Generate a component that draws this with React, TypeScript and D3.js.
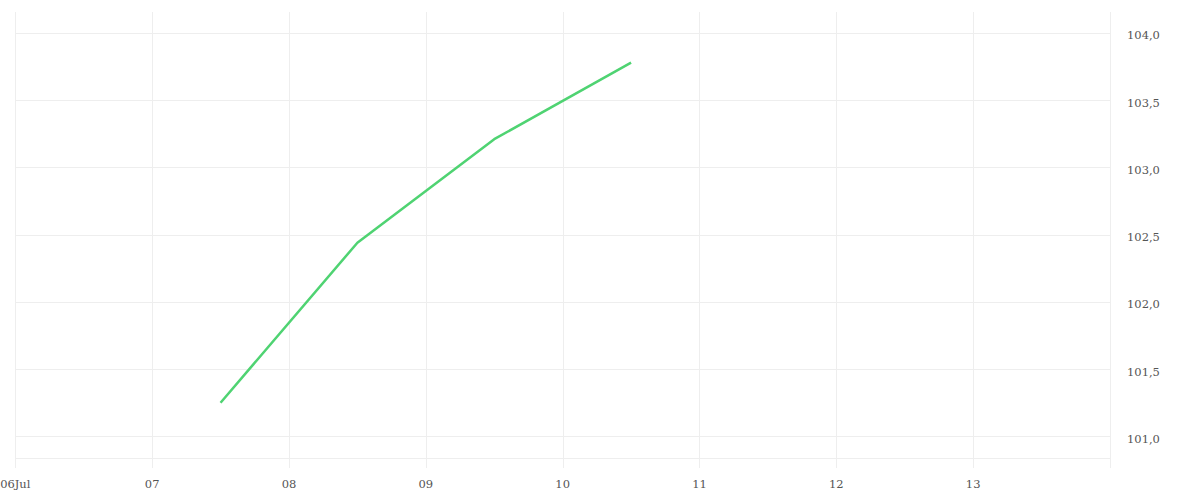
import React from "react";
import * as d3 from "d3";

const dates: string[] = ["2024-07-07T12:00", "2024-07-08T12:00", "2024-07-09T12:00", "2024-07-10T12:00"];
const values: number[] = [101.25, 102.44, 103.21, 103.78];
const yTicks: number[] = [101, 101.5, 102, 102.5, 103, 103.5, 104];
const xTickDates: string[] = ["2024-07-06", "2024-07-07", "2024-07-08", "2024-07-09", "2024-07-10", "2024-07-11", "2024-07-12", "2024-07-13"];
const xTickLabels: string[] = ["06Jul", "07", "08", "09", "10", "11", "12", "13"];

const W = 1200;
const H = 500;
const left = 15.3;
const right = 1110;
const top = 12;
const bottom = 458;

export default function App() {
  const parse = (s: string) => new Date(s);
  const x = d3.scaleTime().domain([parse("2024-07-06T00:00"), parse("2024-07-14T00:00")]).range([left, right]);
  const y = d3.scaleLinear().domain([100.839, 104.156]).range([bottom, top]);
  const data = dates.map((d, i) => ({ d: parse(d), v: values[i] }));
  const line = d3.line<{ d: Date; v: number }>().x((p) => x(p.d)).y((p) => y(p.v));
  const fmt = (v: number) => v.toFixed(1).replace(".", ",");

  return (
    <svg width={W} height={H} style={{ position: "absolute", left: 0, top: 0, fontFamily: "'DejaVu Serif', serif" }}>
      <rect width={W} height={H} fill="#fff" />
      {yTicks.map((t) => (
        <line key={"h" + t} x1={left} x2={right} y1={Math.round(y(t)) + 0.5} y2={Math.round(y(t)) + 0.5} stroke="#eeeeee" />
      ))}
      <line x1={left} x2={right} y1={bottom + 0.5} y2={bottom + 0.5} stroke="#eeeeee" />
      {xTickDates.map((t) => {
        const xx = Math.round(x(parse(t + "T00:00"))) + 0.5;
        return <line key={"v" + t} x1={xx} x2={xx} y1={top} y2={468} stroke="#eeeeee" />;
      })}
      <line x1={right + 0.5} x2={right + 0.5} y1={top} y2={468} stroke="#eeeeee" />
      <path d={line(data) || ""} fill="none" stroke="#4fd372" strokeWidth={2.5} strokeLinejoin="round" />
      {xTickDates.map((t, i) => (
        <text key={"xl" + t} x={x(parse(t + "T00:00"))} y={488} textAnchor="middle" fontSize={11.5} fill="#555">
          {xTickLabels[i]}
        </text>
      ))}
      {yTicks.map((t) => (
        <text key={"yl" + t} x={1127} y={y(t) + 6.5} fontSize={11.5} fill="#555">
          {fmt(t)}
        </text>
      ))}
    </svg>
  );
}
